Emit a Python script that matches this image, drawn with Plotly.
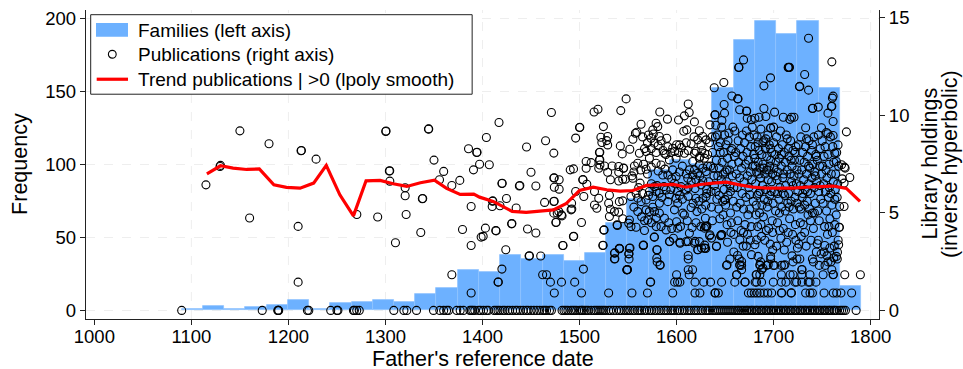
import plotly.graph_objects as go

# --- histogram: families per bin (left axis) ---
bin_start = 1090
bin_width = 21.875
family_counts = [1, 3, 1, 2, 4, 7, 1, 5, 6, 7, 6, 11, 15, 28, 26, 38, 35, 38, 34, 39, 60, 76, 96, 103, 100,
                 152, 185, 198, 189, 198, 152, 17]

# --- trend ---
trend_years = [1116, 1130, 1143, 1157, 1170, 1185, 1198, 1212, 1226, 1239, 1253, 1267, 1280, 1294.5, 1308, 1322,
               1336, 1350.5, 1363, 1377, 1391, 1397, 1411, 1430.6, 1445, 1459, 1473, 1486, 1500, 1514, 1528, 1542,
               1555, 1569, 1583, 1597, 1610, 1624, 1638, 1651.5, 1665, 1679, 1693, 1706.5, 1720, 1734, 1748,
               1761.5, 1775, 1789]
trend_values = [7.01, 7.42, 7.30, 7.23, 7.26, 6.44, 6.31, 6.27, 6.53, 7.44, 5.93, 4.85, 6.65, 6.67, 6.50, 6.36,
                6.55, 6.68, 6.26, 5.95, 5.97, 5.81, 5.59, 5.08, 5.03, 5.08, 5.16, 5.47, 6.15, 6.32, 6.19, 6.12,
                6.15, 6.41, 6.44, 6.46, 6.32, 6.46, 6.53, 6.58, 6.44, 6.32, 6.27, 6.27, 6.27, 6.32, 6.36,
                6.38, 6.26, 5.59]

# --- publications with zero holdings ---
pubs_zero_years = [1090, 1173, 1189, 1189.5, 1190, 1219.6, 1221, 1243.6, 1250, 1251, 1267, 1268, 1270.4, 1273, 1308.6,
                   1319, 1322, 1332, 1349.5, 1356, 1360, 1363, 1365, 1373.5, 1377, 1380.4, 1387, 1388.5, 1390, 1392,
                   1396, 1398, 1401, 1404, 1406, 1412, 1414, 1416, 1418, 1421, 1423, 1426, 1428, 1431, 1434, 1436,
                   1439, 1442, 1445, 1447, 1450, 1453, 1456, 1459, 1462, 1464, 1466, 1469, 1471, 1482, 1484, 1486,
                   1488, 1491, 1493, 1495, 1497, 1500, 1502, 1503, 1505, 1507, 1509, 1512, 1515, 1517, 1519, 1521,
                   1523, 1525, 1527, 1530, 1532, 1535, 1538, 1541, 1543, 1546, 1548, 1550, 1552, 1555, 1557, 1560,
                   1562, 1564, 1567, 1569, 1572, 1574, 1577, 1579, 1582, 1584, 1587, 1589, 1591, 1594, 1596, 1598,
                   1601, 1603, 1606, 1608, 1611, 1613, 1615, 1618, 1620, 1622, 1625, 1627, 1630, 1632, 1634, 1637,
                   1639, 1641, 1643, 1645, 1647, 1649, 1651, 1653, 1655, 1657, 1659, 1661, 1663, 1664, 1666, 1668,
                   1670, 1672, 1673, 1675, 1677, 1678, 1680, 1682, 1683, 1685, 1687, 1688, 1690, 1692, 1693, 1695,
                   1697, 1698, 1700, 1702, 1703, 1705, 1707, 1708, 1710, 1712, 1713, 1715, 1717, 1718, 1720, 1722,
                   1723, 1725, 1727, 1728, 1730, 1732, 1733, 1735, 1737, 1738, 1740, 1742, 1743, 1745, 1747, 1748,
                   1750, 1752, 1753, 1755, 1757, 1758, 1760, 1762, 1763, 1765, 1768, 1770, 1772, 1774, 1785]

# --- publications with positive holdings, by period: (year, holdings) ---
pubs_before_1400 = [
    (1115, 6.44), (1129.5, 7.38), (1130, 7.44), (1150, 9.21), (1160, 4.74), (1180, 8.55), (1213, 8.19), (1213.4, 8.2),
    (1210, 4.31), (1210, 1.45), (1228.5, 7.76), (1270.5, 4.92), (1292, 4.79), (1300.3, 9.18), (1300.6, 9.2),
    (1304, 7.15), (1304.4, 7.16), (1304.5, 6.63), (1310.3, 3.47), (1320.3, 6.29), (1320.3, 5.88), (1321.3, 4.92),
    (1336.4, 4.0), (1338, 5.73), (1338.4, 5.74), (1344.3, 9.3), (1344.6, 9.31), (1350, 7.71), (1355.7, 6.7),
    (1360, 7.13), (1368.4, 6.41), (1376.6, 6.67), (1368.4, 1.83), (1379.4, 4.15), (1385.6, 8.29), (1388.3, 5.33),
    (1388.3, 3.33), (1388.3, 0.89), (1394, 8.1), (1394.4, 8.11), (1390.7, 7.21), (1397, 7.5), (1398.6, 3.76),
]
pubs_1400s = [
    (1417, 9.64), (1404, 8.87), (1407, 7.47), (1420, 6.51), (1420.3, 6.52), (1410.3, 5.6), (1410.6, 5.62), (1410, 5.33),
    (1418, 5.37), (1424.7, 5.74), (1434.7, 5.25), (1438.5, 6.41), (1438, 6.38), (1445.4, 8.38), (1450, 7.09),
    (1455, 6.38), (1465, 8.7), (1471, 10.15), (1464, 5.54), (1446.4, 4.18), (1455, 3.97), (1430, 4.44), (1430.3, 4.46),
    (1413.7, 4.1), (1414, 4.08), (1403, 4.22), (1400.7, 3.8), (1424, 3.11), (1448, 2.79), (1448.4, 2.8), (1460, 2.79),
    (1420, 2.12), (1462, 1.83), (1466, 1.83), (1416, 1.45), (1416.3, 1.46), (1470, 1.45), (1481.4, 1.45), (1495, 1.45),
    (1473.5, 8.07), (1473.5, 6.79), (1473.9, 6.8), (1479, 6.7), (1474, 6.32), (1479, 6.22), (1490.4, 7.21),
    (1493.8, 7.26), (1496, 8.84), (1496, 6.1), (1473.5, 5.59), (1473.9, 5.6), (1473.5, 4.99), (1481.4, 4.9),
    (1477, 4.99), (1491.8, 5.5), (1492, 5.2), (1475.6, 4.51), (1475.9, 4.52), (1494, 3.8), (1483, 3.33),
    (1474, 0.89), (1478.6, 5.07), (1482, 4.85), (1491.3, 5.16), (1493.7, 3.79), (1482.7, 3.33),
]
pubs_1500s = [
    (1500, 9.38), (1500.3, 9.39), (1502, 4.51), (1504, 2.12), (1502, 0.89), (1530, 0.89), (1554, 0.89), (1570, 0.89),
    (1596, 0.89), (1573, 1.45), (1573.3, 1.46), (1598, 1.45), (1600, 1.83), (1549, 2.09), (1549.4, 2.1), (1583, 2.31),
    (1580, 2.49), (1536, 2.64), (1536.4, 2.65), (1551, 2.64), (1524, 3.33), (1524.3, 3.34), (1525, 4.12),
    (1525.3, 4.13), (1539, 4.36), (1541, 3.16), (1541.3, 3.17), (1552, 3.2), (1565.6, 3.33), (1566, 3.34), (1577, 3.76),
    (1580, 3.11), (1593, 3.54), (1548, 10.85), (1515, 10.18), (1519, 10.32), (1542.5, 10.25), (1524.6, 9.43),
    (1522, 8.88), (1529, 8.92), (1528, 8.71), (1523, 8.61), (1529, 8.49), (1520.5, 8.1), (1520.9, 8.11), (1542, 8.44),
    (1544, 8.03), (1551.8, 8.27), (1555, 8.78), (1557.6, 9.09), (1559, 9.14), (1563.4, 9.55), (1582.7, 10.18),
    (1590.6, 9.81), (1520.5, 7.72), (1520.9, 7.73), (1521, 7.46), (1506.8, 7.64), (1512, 7.58), (1506.8, 7.29),
    (1519.8, 7.29), (1525.7, 7.41), (1533.6, 7.41), (1540.4, 7.38), (1545.2, 7.29), (1545.5, 7.3), (1529, 7.09),
    (1540.4, 7.09), (1554, 6.9), (1556.6, 7.41), (1560, 7.55), (1503.3, 6.7), (1503.6, 6.71), (1531.8, 6.7),
    (1540.4, 6.64), (1544.5, 6.73), (1547.3, 6.73), (1561.7, 8.06), (1568.6, 8.15), (1572, 7.81), (1578.9, 7.55),
    (1584, 7.46), (1587.5, 8.06), (1596, 8.32), (1592.6, 7.72), (1599.5, 7.81), (1578.9, 9.6), (1575.5, 9.26),
    (1580.6, 9.43), (1573.7, 8.83), (1582.3, 8.92), (1577, 8.58), (1589.9, 8.83), (1568.6, 7.24), (1554.9, 6.78),
    (1562.4, 6.53), (1507.5, 6.47), (1504.4, 5.84), (1515.4, 6.1), (1519.8, 5.75), (1530.8, 5.91), (1530, 5.5),
    (1541, 5.58), (1544.5, 5.62), (1515.4, 5.41), (1517.8, 5.24), (1531.8, 5.19), (1536, 5.07), (1540.4, 5.04),
    (1530.8, 4.82), (1544.5, 4.7), (1538.7, 4.39), (1550.7, 4.47), (1553, 4.3), (1558.3, 4.27), (1566.9, 4.1),
    (1577.2, 3.76), (1541, 3.19), (1536, 2.94), (1536.3, 2.95), (1551.4, 3.19), (1550.7, 2.9), (1551, 2.91),
    (1565.8, 3.35), (1579.6, 3.11), (1579.6, 2.68), (1583, 2.34), (1548.7, 2.08), (1549, 2.09), (1553, 5.84),
    (1560, 5.76), (1568.6, 5.67), (1575.5, 5.84), (1582.3, 6.01), (1589.2, 6.18), (1597.8, 6.52), (1551.4, 4.64),
    (1560, 5.07), (1570.3, 4.64), (1572, 5.07), (1577.2, 5.07), (1582.3, 4.99), (1587.5, 4.73), (1597.8, 5.16),
    (1579, 4.3), (1584, 4.3), (1589.2, 4.13), (1592.6, 3.53), (1596.7, 3.7), (1599.5, 5.75), (1591, 5.58),
    (1582.3, 5.5), (1575.5, 5.29), (1568.6, 5.16), (1578.9, 6.1), (1558.3, 6.01), (1563.4, 5.58), (1592.6, 5.93),
    (1596, 7.21), (1599.5, 6.87), (1585.8, 6.95), (1577.2, 6.35), (1572, 6.1),
]
pubs_1550_1640_more = [
    (1565, 8.9), (1567, 8.3), (1570, 8.6), (1571, 9.0), (1574, 8.3), (1576, 9.05), (1579, 8.1), (1581, 8.45), (1584, 8.7),
    (1586, 8.2), (1589, 8.0), (1591, 8.4), (1594, 8.1), (1598, 8.15), (1600, 8.5), (1602, 8.1), (1605, 8.35), (1610, 8.6),
    (1612, 8.2), (1615, 8.55), (1618, 8.9), (1624, 7.9), (1626, 8.2), (1629, 8.05), (1632, 7.4), (1556, 7.1), (1563, 7.2),
    (1566, 7.5), (1570, 7.0), (1574, 7.35), (1581, 7.15), (1588, 7.25), (1591, 6.95), (1595, 6.75), (1603, 7.1), (1606, 7.4),
    (1610, 7.0), (1612, 6.3), (1615, 6.6), (1619, 6.25), (1624, 6.9), (1627, 6.65), (1631, 6.0), (1561, 6.3), (1565, 6.0),
    (1571, 5.9), (1574, 6.5), (1580, 6.4), (1585, 5.8), (1587, 6.35), (1594, 6.2), (1601, 6.1), (1603, 5.9), (1606, 5.7),
    (1612, 5.85), (1617, 5.5), (1623, 5.6), (1626, 5.2), (1630, 5.4), (1556, 5.3), (1564, 4.8), (1567, 4.6), (1574, 4.5),
    (1579, 4.75), (1592, 4.5), (1595, 4.2), (1600, 4.55), (1604, 4.3), (1611, 4.6), (1616, 4.25), (1620, 4.5), (1625, 4.3),
]
pubs_1600_1640 = [
    (1602, 9.77), (1608, 9.98), (1612, 10.59), (1613, 10.15), (1618.4, 9.67), (1607.4, 9.19), (1610.5, 9.26),
    (1603, 8.49), (1608, 8.06), (1618.4, 8.06), (1623.5, 9.22), (1627, 8.92), (1630.4, 8.75), (1621.8, 8.75),
    (1625.2, 8.49), (1620, 8.15), (1604.6, 6.35), (1611.5, 6.78), (1616.7, 6.95), (1621.8, 7.04), (1627, 7.29),
    (1630.4, 7.12), (1623.5, 7.46), (1618.4, 7.21), (1613.2, 7.21), (1606.4, 4.99), (1608, 4.9), (1615, 5.28),
    (1621, 5.07), (1629.7, 4.73), (1603.6, 3.45), (1609.8, 3.53), (1613.2, 3.96), (1618.4, 3.45), (1623.5, 3.53),
    (1628.7, 3.19), (1621.8, 3.11), (1629.7, 4.3), (1628.7, 4.22), (1601.2, 4.22), (1601.2, 5.5), (1620, 6.7),
    (1625.2, 6.44), (1620, 5.75), (1630.4, 5.84), (1627, 5.75), (1609.8, 6.18), (1616.7, 7.64), (1623.5, 7.81),
    (1628.7, 7.81), (1619, 0.89), (1624, 0.89), (1601, 1.45), (1603.4, 1.45), (1619, 1.45), (1628, 1.45), (1635, 1.45),
    (1613, 1.83), (1612, 2.09), (1616.5, 2.09), (1612, 2.64), (1603.4, 3.5), (1612, 3.54), (1619, 3.54), (1622, 3.11),
    (1629, 3.35), (1630, 3.18), (1631, 4.31), (1631.3, 4.32), (1634, 3.83), (1612, 2.82), (1639.5, 0.89), (1640, 0.9),
    (1634.3, 9.52), (1638.8, 11.42), (1634.3, 3.88), (1636, 3.71), (1629, 3.2), (1625.7, 3.2), (1630, 4.31), (1632, 8.0),
    (1633, 6.6), (1635, 7.4), (1636, 5.3), (1634, 8.6), (1631, 6.2), (1636.5, 8.9), (1637, 4.6), (1635.5, 6.1),
]
pubs_1640s_1650s = [
    (1637, 8.1), (1638, 7.3), (1638.5, 6.9), (1639, 6.4), (1640, 8.9), (1640.5, 9.5), (1641, 7.7), (1641.5, 5.7),
    (1642, 9.0), (1642.5, 6.9), (1643, 8.4), (1643.5, 5.2), (1644, 7.3), (1644.5, 4.7), (1645, 8.6), (1646, 6.7),
    (1646.5, 9.4), (1647, 7.6), (1647.5, 5.6), (1648, 4.9), (1648.5, 8.1), (1649, 6.2), (1649.5, 9.0), (1650, 7.1),
    (1650.5, 5.4), (1651, 8.5), (1651.5, 6.6), (1652, 4.4), (1652.5, 7.8), (1653, 5.9), (1654, 9.1), (1654.5, 7.2),
    (1655, 6.4), (1655.5, 5.0), (1656, 8.2), (1656.5, 4.5), (1657, 7.5), (1657.5, 6.9), (1658, 9.4), (1658.5, 5.6),
    (1659, 3.9), (1659.5, 7.9), (1648.7, 11.69), (1657, 11.0), (1663, 10.85), (1663.3, 10.86), (1649, 10.56),
    (1649.4, 10.12), (1639.5, 10.03), (1639.8, 10.04), (1646.7, 9.74), (1641.2, 3.3), (1646.3, 3.88), (1646.6, 3.89),
    (1649.8, 5.68), (1650, 5.69), (1651.5, 2.31), (1652, 2.34), (1655, 2.64), (1646.4, 1.45), (1643, 0.89),
    (1645.4, 3.83), (1645.7, 3.84), (1641, 3.28), (1640.5, 6.1), (1644, 5.9), (1652.5, 3.5), (1656, 4.0), (1659, 3.0),
    (1655.5, 6.1), (1648, 7.0), (1652, 7.2), (1645, 8.1), (1653, 8.7), (1657, 8.3), (1659, 6.3),
]
pubs_1660s = [
    (1669, 12.85), (1664, 12.46), (1664.3, 12.47), (1665, 10.29), (1672, 10.22), (1672.3, 10.23), (1677, 9.78),
    (1672.8, 9.86), (1660, 1.45), (1670.4, 1.45), (1670.7, 1.46), (1662, 1.83), (1665.3, 2.31), (1667, 2.31), (1664.6, 2.64),
    (1662.8, 2.82), (1667, 2.51), (1665, 2.34), (1667, 2.09), (1661.8, 1.83), (1668.6, 3.3), (1672, 3.3), (1665.2, 3.62),
    (1674, 0.89), (1677, 0.89), (1675.5, 5.93), (1660, 9.2), (1661, 8.1), (1661.5, 7.0), (1662, 5.3), (1662.5, 6.3),
    (1663, 4.6), (1663.5, 8.7), (1664, 7.6), (1665, 6.8), (1665.5, 5.5), (1666, 8.3), (1666.5, 4.1), (1667, 7.3),
    (1667.5, 6.0), (1668, 9.0), (1668.5, 7.9), (1669, 5.2), (1669.5, 6.6), (1670, 8.6), (1670.5, 4.4), (1671, 7.5),
    (1671.5, 5.8), (1672, 9.2), (1672.5, 8.1), (1673, 6.9), (1673.5, 4.9), (1674, 7.7), (1674.5, 6.3), (1675, 8.9),
    (1675.5, 5.2), (1676, 7.1), (1676.5, 8.4), (1677, 4.3), (1677.5, 6.7), (1678, 9.4), (1678.5, 7.4), (1679, 5.6),
    (1679.5, 8.0), (1673, 3.9), (1669, 4.0), (1676, 3.6),
]
pubs_1680s = [
    (1680.7, 9.86), (1685, 9.91), (1690, 11.52), (1690, 10.36), (1692, 9.95), (1696.8, 11.93), (1696.8, 9.35), (1697, 9.36),
    (1681, 1.45), (1682.5, 1.45), (1687.6, 1.45), (1682, 1.83), (1685.8, 1.83), (1682.4, 1.83), (1687.6, 2.09),
    (1686, 2.31), (1692.8, 2.31), (1686.6, 2.49), (1697, 2.64), (1684, 2.77), (1685.8, 2.34), (1689, 2.17), (1697, 2.77),
    (1694.4, 2.34), (1680, 0.89), (1683, 0.89), (1686, 0.89), (1690, 0.89), (1694, 0.89), (1698, 0.89), (1680.7, 3.37),
    (1682.4, 3.62), (1677.2, 2.86), (1680, 9.0), (1680.5, 7.8), (1681, 8.4), (1681.5, 6.5), (1682, 5.4), (1682.5, 7.1),
    (1683, 8.9), (1683.5, 4.3), (1684, 7.6), (1684.5, 6.0), (1685, 8.2), (1685.5, 5.0), (1686, 7.3), (1686.5, 6.8),
    (1687, 9.3), (1687.5, 3.8), (1688, 8.0), (1688.5, 6.4), (1689, 7.5), (1689.5, 4.8), (1690, 8.7), (1690.5, 5.7),
    (1691, 7.0), (1691.5, 8.3), (1692, 6.2), (1692.5, 4.1), (1693, 7.9), (1693.5, 5.3), (1694, 9.0), (1694.5, 6.7),
    (1695, 7.2), (1695.5, 8.5), (1696, 5.9), (1696.5, 3.4), (1697, 7.7), (1697.5, 6.1), (1698, 8.1), (1698.5, 4.6),
    (1699, 7.0), (1699.5, 5.5), (1683, 5.9), (1684, 8.6), (1686, 6.1), (1688, 5.4), (1690, 7.3), (1692, 8.8), (1694, 5.6),
    (1696, 7.4), (1698, 6.6), (1681, 7.4), (1685, 7.0), (1689, 8.6), (1693, 7.2), (1697, 8.3), (1699, 3.1),
    (1682, 4.9), (1687, 4.4), (1691, 3.6), (1695, 4.2), (1699, 4.0),
]
pubs_1700s = [
    (1701, 10.17), (1710, 9.91), (1715, 12.46), (1715.3, 12.47), (1716.7, 9.8), (1700, 9.4), (1699.7, 1.45), (1708, 1.45),
    (1712.7, 1.45), (1708, 1.83), (1717, 1.83), (1720, 1.83), (1708, 2.31), (1710.6, 2.31), (1699.7, 2.31), (1701, 2.31),
    (1711.6, 2.34), (1720, 2.49), (1724, 2.64), (1708, 0.89), (1708.4, 0.9), (1718, 0.89), (1718.4, 0.9), (1700, 8.6),
    (1700.5, 7.3), (1701, 6.1), (1701.5, 8.0), (1702, 5.1), (1702.5, 7.6), (1703, 8.9), (1703.5, 6.7), (1704, 4.5),
    (1704.5, 7.1), (1705, 8.3), (1705.5, 5.7), (1706, 7.8), (1706.5, 6.3), (1707, 9.2), (1707.5, 3.7), (1708, 7.4),
    (1708.5, 5.3), (1709, 8.5), (1709.5, 6.8), (1710, 4.2), (1710.5, 7.0), (1711, 8.1), (1711.5, 5.9), (1712, 7.6),
    (1712.5, 6.4), (1713, 9.0), (1713.5, 3.5), (1714, 7.2), (1714.5, 5.5), (1715, 8.3), (1715.5, 6.0), (1716, 7.9),
    (1716.5, 4.7), (1717, 7.0), (1717.5, 8.7), (1718, 5.6), (1718.5, 6.6), (1719, 7.4), (1719.5, 3.9), (1720, 8.2),
    (1720.5, 5.2), (1721, 6.9), (1721.5, 7.7), (1722, 5.8), (1722.5, 4.4), (1723, 8.4), (1723.5, 6.5), (1724, 7.2),
    (1724.5, 3.2), (1702, 6.9), (1704, 6.0), (1706, 5.0), (1708, 8.0), (1710, 6.0), (1712, 5.1), (1714, 8.8), (1716, 5.3),
    (1718, 7.7), (1720, 6.4), (1722, 8.1), (1724, 5.5), (1703, 3.3), (1706, 4.1), (1711, 3.1), (1715, 4.0), (1719, 2.8),
    (1723, 3.6), (1718.4, 9.91), (1721, 9.91), (1716, 12.46), (1716.3, 12.47),
]
pubs_1725_1750 = [
    (1736, 13.96), (1732, 12.1), (1726.6, 11.48), (1727, 11.49), (1736, 11.3), (1740, 10.36), (1740.3, 10.37), (1746, 10.43),
    (1733, 9.37), (1749.3, 9.37), (1722, 1.45), (1723.7, 1.45), (1729, 1.45), (1735.7, 1.45), (1737.5, 1.45), (1743.6, 1.45),
    (1729, 1.83), (1737.5, 1.83), (1729, 2.09), (1729.3, 2.1), (1747, 2.31), (1741, 2.49), (1727, 2.64), (1740, 2.64),
    (1733, 0.89), (1737.5, 0.89), (1740, 0.89), (1745, 3.42), (1752.7, 3.33), (1725, 6.1), (1725.5, 8.5), (1726, 7.0),
    (1726.5, 5.3), (1727, 7.7), (1727.5, 6.4), (1728, 8.9), (1728.5, 3.8), (1729, 7.2), (1729.5, 5.8), (1730, 8.1),
    (1730.5, 4.4), (1731, 6.7), (1731.5, 7.6), (1732, 5.4), (1732.5, 6.2), (1733, 8.4), (1733.5, 3.3), (1734, 7.0),
    (1734.5, 5.6), (1735, 7.9), (1735.5, 4.9), (1736, 6.5), (1736.5, 8.7), (1737, 5.2), (1737.5, 7.3), (1738, 6.0),
    (1738.5, 3.6), (1739, 8.2), (1739.5, 6.8), (1740, 5.0), (1740.5, 7.5), (1741, 4.2), (1741.5, 8.9), (1742, 6.3),
    (1742.5, 7.1), (1743, 5.5), (1743.5, 8.0), (1744, 3.0), (1744.5, 6.6), (1745, 7.7), (1745.5, 5.1), (1746, 9.0),
    (1746.5, 6.1), (1747, 4.6), (1747.5, 7.4), (1748, 8.3), (1748.5, 5.7), (1749, 2.9), (1749.5, 7.0), (1726, 3.4),
    (1730, 6.0), (1732, 4.0), (1734, 8.8), (1736, 7.4), (1738, 4.6), (1740, 8.5), (1742, 5.0), (1744, 7.9), (1746, 3.6),
    (1748, 6.4), (1728, 5.2), (1735, 6.1), (1743, 6.9), (1727.5, 4.5),
]
pubs_after_1750 = [
    (1760, 12.75), (1761.3, 10.99), (1760.6, 10.89), (1759.6, 10.46), (1760, 10.47), (1756, 10.12), (1761.3, 9.69),
    (1775, 9.16), (1754.4, 9.13), (1756, 9.06), (1761.3, 8.97), (1766.4, 8.49), (1763, 8.07), (1764.7, 7.64), (1770, 7.47),
    (1773, 7.35), (1773.7, 7.3), (1778.5, 6.82), (1770.6, 6.75), (1772.6, 6.53), (1768, 5.33), (1772.6, 5.33),
    (1767.5, 4.26), (1767.8, 4.27), (1767, 3.37), (1765.8, 2.99), (1764.7, 2.77), (1761.3, 1.83), (1761.6, 1.84),
    (1773.3, 1.83), (1789.4, 1.83), (1751, 1.83), (1760, 2.09), (1753, 2.31), (1756, 2.49), (1765.6, 2.64), (1752, 0.89),
    (1761.5, 0.89), (1765, 0.89), (1769.4, 0.89), (1780.4, 0.89), (1750, 8.7), (1750.5, 7.4), (1751, 5.5), (1751.5, 6.5),
    (1752, 7.9), (1752.5, 4.3), (1753, 8.4), (1753.5, 6.1), (1754, 7.2), (1754.5, 5.1), (1755, 6.8), (1755.5, 3.9),
    (1756, 8.0), (1756.5, 5.8), (1757, 7.5), (1757.5, 6.3), (1758, 4.7), (1758.5, 8.9), (1759, 6.0), (1759.5, 7.0),
    (1760, 5.4), (1760.5, 4.0), (1761, 8.4), (1761.5, 6.6), (1762, 7.6), (1762.5, 3.3), (1763, 5.7), (1763.5, 6.2),
    (1764, 7.0), (1764.5, 4.9), (1765, 8.1), (1765.5, 5.8), (1766, 6.5), (1766.5, 3.6), (1767, 7.4), (1752, 3.0), (1755, 2.8),
    (1758, 3.2), (1762, 2.7), (1763, 4.4), (1757, 4.3), (1759, 2.5),
]

grid_years = [1100, 1200, 1300, 1400, 1500, 1600, 1700, 1800]

pub_groups = [pubs_before_1400, pubs_1400s, pubs_1500s, pubs_1550_1640_more, pubs_1600_1640, pubs_1640s_1650s, pubs_1660s,
              pubs_1680s, pubs_1700s, pubs_1725_1750, pubs_after_1750]
pub_x = list(pubs_zero_years) + [p[0] for g in pub_groups for p in g]
pub_y = [0] * len(pubs_zero_years) + [p[1] for g in pub_groups for p in g]
bin_centers = [bin_start + bin_width * (i + 0.5) for i in range(len(family_counts))]

BLUE = "#6DB1FF"
SPINE = "#222222"
FONT = "Liberation Sans, Arial, sans-serif"
W, H = 963, 369
L, R, T, B = 86.0, 879.3, 10.0, 319.3


def px(x):
    return (x - L) / (R - L)


def py(y):
    return (B - y) / (B - T)


fig = go.Figure()
fig.add_trace(go.Bar(x=bin_centers, y=family_counts, width=bin_width, name="Families (left axis)",
                     marker=dict(color=BLUE, line=dict(color="#8FC3FF", width=0.8)), yaxis="y", showlegend=False))
fig.add_trace(go.Scatter(x=pub_x, y=pub_y, mode="markers", name="Publications (right axis)", yaxis="y2", showlegend=False,
                         marker=dict(symbol="circle-open", size=8, color="black", line=dict(width=1.1, color="black"))))
fig.add_trace(go.Scatter(x=trend_years, y=trend_values, mode="lines", name="Trend publications | >0 (lpoly smooth)",
                         yaxis="y2", showlegend=False, line=dict(color="#FF0000", width=3.2)))

shapes = [dict(type="line", xref="x", yref="paper", x0=g, x1=g, y0=0, y1=1, layer="below",
               line=dict(color="#EEEEEE", width=1, dash="dash")) for g in grid_years]
# legend frame and keys
shapes += [
    dict(type="rect", xref="paper", yref="paper", x0=px(90.7), x1=px(472.3), y0=py(94.3), y1=py(14.7),
         fillcolor="white", line=dict(color="#222222", width=1), layer="above"),
    dict(type="rect", xref="paper", yref="paper", x0=px(96), x1=px(128), y0=py(36.7), y1=py(23),
         fillcolor=BLUE, line=dict(width=0), layer="above"),
    dict(type="circle", xref="paper", yref="paper", x0=px(108.4), x1=px(116.2), y0=py(58.2), y1=py(50.4),
         fillcolor="rgba(0,0,0,0)", line=dict(color="black", width=1.1), layer="above"),
    dict(type="line", xref="paper", yref="paper", x0=px(96.7), x1=px(128), y0=py(79.3), y1=py(79.3),
         line=dict(color="#FF0000", width=3.2), layer="above"),
]
annotations = [
    dict(text=t, xref="paper", yref="paper", x=px(136.5), y=py(yy), xanchor="left", yanchor="middle", showarrow=False,
         font=dict(size=19, color="black", family=FONT))
    for t, yy in [("Families (left axis)", 30.5), ("Publications (right axis)", 54.5),
                  ("Trend publications | >0 (lpoly smooth)", 79.5)]
]
annotations += [
    dict(text=t, xref="paper", yref="paper", x=px(xx), y=py(164), textangle=-90, showarrow=False, xanchor="center",
         yanchor="middle", font=dict(size=21.5, color="black", family=FONT))
    for t, xx in [("Library holdings", 930), ("(inverse hyperbolic)", 950.5)]
]
annotations.append(dict(text="Father's reference date", xref="paper", yref="paper", x=px(483), y=py(359.5), showarrow=False,
                        xanchor="center", yanchor="middle", font=dict(size=21.5, color="black", family=FONT)))
annotations.append(dict(text="Frequency", xref="paper", yref="paper", x=px(20), y=py(164), textangle=-90, showarrow=False,
                        xanchor="center", yanchor="middle", font=dict(size=21.5, color="black", family=FONT)))

tick = dict(ticks="outside", ticklen=5, tickwidth=1.2, tickcolor=SPINE, showline=True, linecolor=SPINE, linewidth=1.3,
            zeroline=False, automargin=False, tickfont=dict(size=18.5, color="black", family=FONT))
fig.update_layout(
    width=W, height=H, autosize=False, paper_bgcolor="white", plot_bgcolor="white", showlegend=False,
    margin=dict(l=L, r=W - R, t=T, b=H - B, pad=0), bargap=0, shapes=shapes, annotations=annotations,
    font=dict(family=FONT, color="black"),
    xaxis=dict(range=[991.4, 1808.6], tickvals=[1000, 1100, 1200, 1300, 1400, 1500, 1600, 1700, 1800], showgrid=False,
               ticklabelstandoff=-4, **tick),
    yaxis=dict(range=[-5.9, 205.7], tickvals=[0, 50, 100, 150, 200], showgrid=True, gridcolor="#EEEEEE", griddash="dash",
               gridwidth=1, **tick),
    yaxis2=dict(range=[-0.44, 15.41], tickvals=[0, 5, 10, 15], overlaying="y", side="right", showgrid=False, **tick),
)
fig.write_html("out.html", config=dict(displayModeBar=False), post_script="document.body.style.margin='0';")
